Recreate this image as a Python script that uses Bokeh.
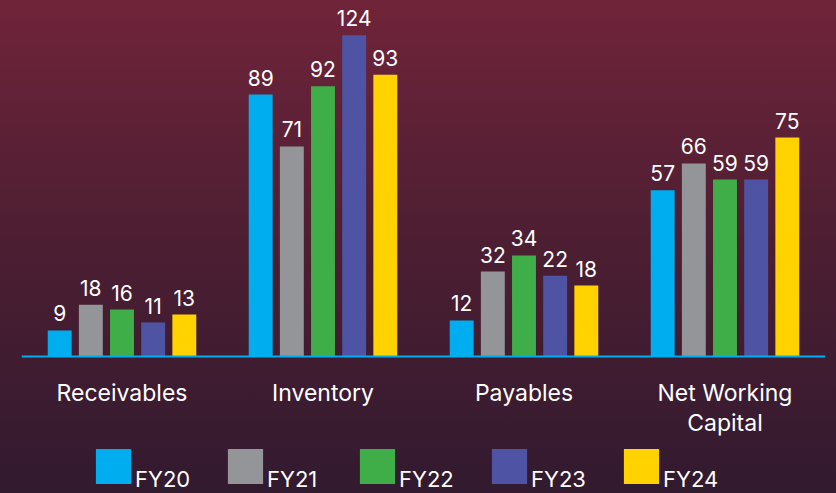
from bokeh.plotting import figure
from bokeh.models import ColumnDataSource, FactorRange, Range1d, Legend, LegendItem, Span, GlobalInlineStyleSheet
from bokeh.transform import dodge
from bokeh.core.properties import value
from bokeh.embed import file_html
from bokeh.resources import INLINE

categories = ["Receivables", "Inventory", "Payables", "Net Working Capital"]
category_labels = ["Receivables", "Inventory", "Payables", "Net Working\nCapital"]
years = ["FY20", "FY21", "FY22", "FY23", "FY24"]

# printed data labels
fy20_labels = [9, 89, 12, 57]
fy21_labels = [18, 71, 32, 66]
fy22_labels = [16, 92, 34, 59]
fy23_labels = [11, 124, 22, 59]
fy24_labels = [13, 93, 18, 75]

# bar heights as drawn in the picture
fy20_heights = [8.9, 89.4, 12.3, 56.7]
fy21_heights = [17.7, 71.7, 29.0, 65.9]
fy22_heights = [16.0, 92.2, 34.5, 60.4]
fy23_heights = [11.6, 109.6, 27.6, 60.4]
fy24_heights = [14.3, 96.2, 24.2, 74.7]

colors = ["#00AEEF", "#939598", "#3FAE49", "#4E54A3", "#FFD200"]
offsets = [-0.31, -0.155, 0.0, 0.155, 0.31]

labels_all = [fy20_labels, fy21_labels, fy22_labels, fy23_labels, fy24_labels]
heights_all = [fy20_heights, fy21_heights, fy22_heights, fy23_heights, fy24_heights]

FONT = "Inter"
GRAD = "linear-gradient(to bottom, #70243a 0%, #4c1e32 50%, #321a2f 100%)"

p = figure(
    x_range=FactorRange(factors=categories, range_padding=0),
    y_range=Range1d(-46.76, 121.5),
    width=836, height=493,
    output_backend="svg", toolbar_location=None,
    x_axis_location=None, y_axis_location=None,
    min_border_left=21, min_border_right=11, min_border_top=0, min_border_bottom=0,
)
p.styles = {"background": GRAD}
p.stylesheets = [GlobalInlineStyleSheet(css="html, body { background: " + GRAD + "; }")]
p.background_fill_alpha = 0
p.border_fill_alpha = 0
p.outline_line_color = None
p.xgrid.visible = False
p.ygrid.visible = False

p.add_layout(Span(location=0, dimension="width", line_color="#00AEEF", line_width=2))

items = []
for yr, col, off, labs, hts in zip(years, colors, offsets, labels_all, heights_all):
    src = ColumnDataSource(dict(cat=categories, h=hts, lab=[str(v) for v in labs]))
    r = p.vbar(x=dodge("cat", off, range=p.x_range), top="h", width=0.119, source=src,
               fill_color=col, line_color=None)
    p.text(x=dodge("cat", off, range=p.x_range), y="h", text="lab", source=src,
           text_align="center", text_baseline="alphabetic", y_offset=-17,
           text_color="white", text_font=value(FONT), text_font_size="21px")
    items.append(LegendItem(label="\n" + yr, renderers=[r]))

cat_src = ColumnDataSource(dict(cat=categories, y=[0] * len(categories), lab=category_labels))
p.text(x="cat", y="y", text="lab", source=cat_src, text_align="center", text_baseline="top",
       y_offset=23, text_color="white", text_font=value(FONT), text_font_size="23px",
       text_line_height=1.04)

legend = Legend(items=items, orientation="horizontal", location=(70, 1),
                glyph_width=44, glyph_height=44, label_standoff=0, spacing=6, label_width=82,
                label_text_font=FONT, label_text_font_size="22px", label_text_color="white",
                label_text_line_height=0.66,
                background_fill_alpha=0, border_line_color=None, padding=0, margin=0)
p.add_layout(legend, "center")

open("out.html", "w").write(file_html(p, INLINE))
